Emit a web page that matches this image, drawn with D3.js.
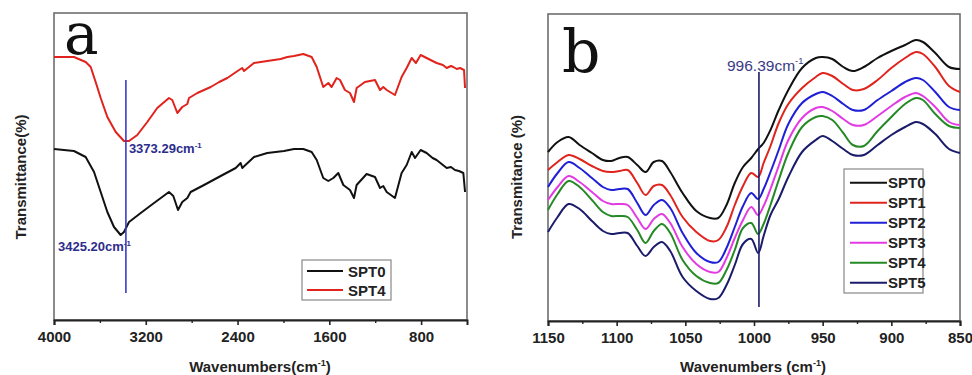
<!DOCTYPE html>
<html>
<head>
<meta charset="utf-8">
<script src="https://cdn.jsdelivr.net/npm/d3@7/dist/d3.min.js"></script>
<style>
  body { margin: 0; background: #fff; }
  svg text { font-family: "Liberation Sans", Arial, sans-serif; }
</style>
</head>
<body>
<svg id="chart" width="972" height="375"></svg>
<script>
// ---- panel a: full FTIR spectrum (transmittance, arbitrary units) ----
const waveA4 = [4000, 3826, 3724, 3680, 3637, 3593, 3535, 3462, 3390, 3346, 3274, 3187, 3100, 2998, 2969, 2925, 2882, 2838, 2823, 2751, 2634, 2560, 2489, 2387, 2359, 2344, 2257, 2141, 2024, 1966, 1908, 1827, 1754, 1710, 1653, 1609, 1580, 1536, 1507, 1464, 1420, 1385, 1362, 1290, 1202, 1158, 1130, 1100, 1028, 970, 926, 882, 845, 804, 752, 700, 665, 610, 577, 540, 519, 490, 461, 426, 417];
const spt4A = [263, 263, 258, 253, 238, 222, 203, 188, 179, 179, 185, 198, 212, 222, 220, 207, 213, 216, 222, 227, 233, 238, 242, 250, 252, 249, 257, 259, 261, 263, 264, 266, 263, 253, 233, 237, 233, 242, 240, 230, 227, 218, 232, 238, 240, 230, 233, 230, 225, 243, 252, 262, 257, 265, 262, 259, 257, 255, 252, 254, 253, 251, 252, 250, 232];

const waveA0 = [4000, 3826, 3724, 3651, 3593, 3535, 3477, 3419, 3390, 3346, 3244, 3128, 2998, 2960, 2919, 2882, 2838, 2809, 2692, 2547, 2416, 2373, 2359, 2257, 2141, 1995, 1908, 1827, 1754, 1710, 1653, 1609, 1565, 1522, 1478, 1420, 1385, 1362, 1275, 1202, 1158, 1130, 1100, 1028, 970, 926, 882, 853, 804, 752, 700, 665, 610, 577, 540, 505, 470, 432, 417];
const spt0A = [171, 169, 163, 148, 128, 108, 93, 85, 88, 98, 107, 117, 128, 124, 110, 118, 122, 128, 135, 144, 152, 157, 152, 163, 167, 169, 171, 171, 168, 160, 142, 139, 142, 147, 135, 130, 122, 135, 146, 143, 132, 134, 128, 122, 147, 155, 168, 162, 170, 167, 162, 160, 155, 152, 153, 150, 149, 147, 128];

const ticksA = [4000, 3200, 2400, 1600, 800];
const minorA = [3600, 2800, 2000, 1200];
const peaksA = [3373.29, 3425.20];

// ---- panel b: 1150-850 cm-1 region, six samples ----
const waveB = [1150, 1143, 1135, 1127, 1118, 1110, 1104, 1098, 1092, 1085, 1079, 1073, 1067, 1061, 1052, 1042, 1032, 1026, 1020, 1014, 1008, 1002, 997, 993, 988, 982, 975, 965, 955, 950, 943, 935, 928, 920, 910, 900, 890, 882, 877, 868, 858, 850];
const spt0B = [169, 179, 184, 176, 168, 161, 160, 163, 164, 156, 149, 159, 160, 149, 128, 110, 103, 103, 116, 138, 154, 163, 172, 178, 191, 211, 231, 253, 263, 264, 262, 254, 250, 254, 263, 270, 276, 281, 279, 268, 254, 252];
const spt1B = [151, 159, 166, 162, 155, 150, 149, 150, 151, 138, 126, 135, 136, 126, 104, 89, 80, 81, 94, 116, 135, 148, 144, 158, 175, 198, 217, 233, 244, 248, 245, 237, 231, 232, 241, 253, 263, 269, 267, 254, 235, 229];
const spt2B = [134, 148, 159, 153, 143, 134, 131, 132, 132, 118, 106, 116, 121, 113, 88, 68, 59, 59, 73, 94, 115, 128, 122, 132, 149, 171, 197, 218, 227, 229, 225, 217, 211, 211, 221, 230, 239, 243, 241, 229, 214, 211];
const spt3B = [121, 134, 145, 139, 129, 120, 117, 117, 116, 103, 92, 102, 107, 98, 74, 57, 49, 49, 63, 83, 101, 114, 106, 115, 132, 155, 181, 203, 213, 214, 210, 202, 196, 196, 205, 215, 224, 228, 225, 214, 199, 196];
const spt4B = [111, 127, 140, 134, 121, 109, 105, 105, 104, 91, 78, 90, 97, 88, 61, 45, 38, 38, 51, 71, 93, 98, 87, 97, 116, 141, 168, 194, 204, 205, 201, 188, 176, 175, 190, 204, 217, 223, 221, 207, 195, 193];
const spt5B = [89, 104, 117, 112, 100, 90, 87, 88, 88, 75, 65, 74, 79, 70, 44, 30, 22, 23, 36, 56, 77, 82, 68, 85, 106, 122, 144, 169, 181, 185, 180, 172, 166, 166, 176, 186, 194, 199, 197, 187, 172, 168];
const namesB = ['SPT0', 'SPT1', 'SPT2', 'SPT3', 'SPT4', 'SPT5'];
const ticksB = [1150, 1100, 1050, 1000, 950, 900, 850];
const minorB = [1125, 1075, 1025, 975, 925, 875];
const peakB = 996.39;

const colorsB = ['#111111', '#e0231c', '#1f1fd6', '#e33be3', '#258a25', '#1b1b6b'];

const svg = d3.select('#chart');

function superLabel(g, x, y, num, opts) {
  const t = g.append('text')
    .attr('x', x).attr('y', y)
    .attr('fill', opts.color)
    .style('font-size', opts.size + 'px')
    .style('font-weight', opts.weight);
  t.append('tspan').text(num + 'cm');
  t.append('tspan').attr('dy', -opts.size * 0.42).style('font-size', (opts.size * 0.6) + 'px').text('-1');
  return t;
}

function frame(g, x, y) {
  const [x0, x1] = x.range();
  const [y0, y1] = y.range();
  g.append('rect')
    .attr('x', x0).attr('y', y1)
    .attr('width', x1 - x0).attr('height', y0 - y1)
    .attr('fill', 'none')
    .attr('stroke', '#6e6e6e')
    .attr('stroke-width', 1.6);
}

function bottomAxis(g, x, y0, ticks, minor) {
  const ax = g.append('g')
    .attr('transform', 'translate(0,' + y0 + ')')
    .call(d3.axisBottom(x).tickValues(ticks).tickSize(5).tickPadding(6).tickFormat(d3.format('d')));
  ax.select('.domain').attr('stroke', '#222').attr('stroke-width', 2);
  ax.selectAll('.tick line').attr('stroke', '#222').attr('stroke-width', 1.6);
  ax.selectAll('.tick text')
    .attr('fill', '#222')
    .style('font-size', '15px')
    .style('font-weight', 'bold')
    .style('font-family', '"Liberation Sans", Arial, sans-serif');
  const mn = g.append('g')
    .attr('transform', 'translate(0,' + y0 + ')')
    .call(d3.axisBottom(x).tickValues(minor).tickSize(3).tickFormat(''));
  mn.select('.domain').remove();
  mn.selectAll('.tick line').attr('stroke', '#222').attr('stroke-width', 1.4);
}

// =========== panel a ===========
const xA = d3.scaleLinear().domain([4000, 400]).range([54, 467]);
const yA = d3.scaleLinear().domain([0, 307]).range([320, 13]);
const gA = svg.append('g');

frame(gA, xA, yA);
bottomAxis(gA, xA, 320, ticksA, minorA);

const lineA = d3.line()
  .x((d) => xA(d[0]))
  .y((d) => yA(d[1]));

gA.append('path')
  .datum(d3.zip(waveA4, spt4A))
  .attr('d', lineA)
  .attr('fill', 'none')
  .attr('stroke', '#e0231c')
  .attr('stroke-width', 2)
  .attr('stroke-linejoin', 'round');

gA.append('path')
  .datum(d3.zip(waveA0, spt0A))
  .attr('d', lineA)
  .attr('fill', 'none')
  .attr('stroke', '#111')
  .attr('stroke-width', 2)
  .attr('stroke-linejoin', 'round');

gA.append('line')
  .attr('x1', xA(peaksA[0])).attr('x2', xA(peaksA[0]))
  .attr('y1', yA(240)).attr('y2', yA(27))
  .attr('stroke', '#3b3bc8')
  .attr('stroke-width', 1.6);

superLabel(gA, xA(peaksA[0]) + 3, 153, peaksA[0].toFixed(2), { color: '#2d2d8c', size: 13, weight: 'bold' });
superLabel(gA, 58, 251, peaksA[1].toFixed(2), { color: '#2d2d8c', size: 13, weight: 'bold' });

gA.append('text')
  .attr('x', 64).attr('y', 54)
  .style('font-family', '"DejaVu Serif", "Liberation Serif", serif')
  .style('font-size', '58px')
  .attr('fill', '#111')
  .text('a');

// legend a
const legA = gA.append('g');
legA.append('rect')
  .attr('x', 302).attr('y', 260).attr('width', 89).attr('height', 40)
  .attr('fill', '#fff').attr('stroke', '#888').attr('stroke-width', 1.2);
[['SPT0', '#111'], ['SPT4', '#e0231c']].forEach((d, i) => {
  const yy = 271 + i * 19;
  legA.append('line')
    .attr('x1', 307).attr('x2', 343).attr('y1', yy).attr('y2', yy)
    .attr('stroke', d[1]).attr('stroke-width', 2);
  legA.append('text')
    .attr('x', 348).attr('y', yy + 5.5)
    .style('font-size', '15px').style('font-weight', 'bold')
    .attr('fill', '#222')
    .text(d[0]);
});

const titleA = gA.append('text')
  .attr('x', 260).attr('y', 372)
  .attr('text-anchor', 'middle')
  .style('font-size', '15px').style('font-weight', 'bold')
  .attr('fill', '#222');
titleA.append('tspan').text('Wavenumbers(cm');
titleA.append('tspan').attr('dy', -6).style('font-size', '9px').text('-1');
titleA.append('tspan').attr('dy', 6).text(')');

gA.append('text')
  .attr('transform', 'translate(26,177) rotate(-90)')
  .attr('text-anchor', 'middle')
  .style('font-size', '15px').style('font-weight', 'bold')
  .attr('fill', '#222')
  .text('Transmittance(%)');

// =========== panel b ===========
const xB = d3.scaleLinear().domain([1150, 850]).range([548, 960]);
const yB = d3.scaleLinear().domain([0, 307]).range([321, 14]);
const gB = svg.append('g');

frame(gB, xB, yB);
bottomAxis(gB, xB, 321, ticksB, minorB);

const seriesB = [spt0B, spt1B, spt2B, spt3B, spt4B, spt5B];
const lineB = d3.line()
  .x((d) => xB(d[0]))
  .y((d) => yB(d[1]))
  .curve(d3.curveCatmullRom.alpha(0.5));

seriesB.forEach((vals, i) => {
  gB.append('path')
    .datum(d3.zip(waveB, vals))
    .attr('d', lineB)
    .attr('fill', 'none')
    .attr('stroke', colorsB[i])
    .attr('stroke-width', 2)
    .attr('stroke-linejoin', 'round');
});

gB.append('line')
  .attr('x1', xB(peakB)).attr('x2', xB(peakB))
  .attr('y1', yB(249)).attr('y2', yB(14))
  .attr('stroke', '#1b1b6b')
  .attr('stroke-width', 1.6);

superLabel(gB, 727, 71, peakB.toFixed(2), { color: '#3a3a86', size: 15.5, weight: 'normal' });

gB.append('text')
  .attr('x', 562).attr('y', 72)
  .style('font-family', '"DejaVu Serif", "Liberation Serif", serif')
  .style('font-size', '60px')
  .attr('fill', '#111')
  .text('b');

// legend b
const legB = gB.append('g');
legB.append('rect')
  .attr('x', 844).attr('y', 169).attr('width', 79).attr('height', 124)
  .attr('fill', '#fff').attr('stroke', '#888').attr('stroke-width', 1.2);
namesB.forEach((name, i) => {
  const yy = 182.7 + i * 20;
  legB.append('line')
    .attr('x1', 850).attr('x2', 887).attr('y1', yy).attr('y2', yy)
    .attr('stroke', colorsB[i]).attr('stroke-width', 2);
  legB.append('text')
    .attr('x', 888).attr('y', yy + 5.5)
    .style('font-size', '15px').style('font-weight', 'bold')
    .attr('fill', '#222')
    .text(name);
});

const titleB = gB.append('text')
  .attr('x', 753).attr('y', 372)
  .attr('text-anchor', 'middle')
  .style('font-size', '15px').style('font-weight', 'bold')
  .attr('fill', '#222');
titleB.append('tspan').text('Wavenumbers (cm');
titleB.append('tspan').attr('dy', -6).style('font-size', '9px').text('-1');
titleB.append('tspan').attr('dy', 6).text(')');

gB.append('text')
  .attr('transform', 'translate(522,177) rotate(-90)')
  .attr('text-anchor', 'middle')
  .style('font-size', '15px').style('font-weight', 'bold')
  .attr('fill', '#222')
  .text('Transmitance (%)');
</script>
</body>
</html>
